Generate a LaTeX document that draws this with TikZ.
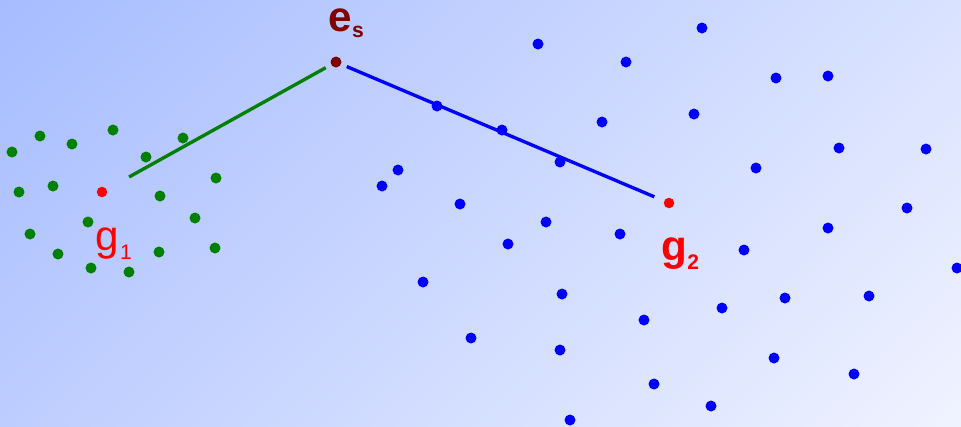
\documentclass[tikz,border=0pt]{standalone}
\usepackage{fontspec}
\setmainfont{Liberation Sans}
\usetikzlibrary{positioning}

\definecolor{dotgreen}{RGB}{0,128,0}
\definecolor{dotblue}{RGB}{0,0,255}
\definecolor{dotred}{RGB}{255,0,0}
\definecolor{esred}{RGB}{128,0,0}
\definecolor{bgdark}{RGB}{166,188,255}
\definecolor{bglight}{RGB}{240,243,255}

\newcommand{\subtxt}[2]{\raisebox{-#1}{\fontsize{6}{7}\selectfont #2}}

\tikzset{
  spot/.style={circle,fill=#1,inner sep=0pt,minimum size=0.11cm},
  lbl/.style={inner sep=0pt,anchor=base west,font=\fontsize{12}{14}\selectfont},
  link/.style={draw=#1,line width=0.95pt}
}

\begin{document}
\begin{tikzpicture}[x=0.01cm,y=-0.01cm]
    \useasboundingbox (0,0) rectangle (961,426);
    % diagonal background, dark top left to light bottom right
    \begin{scope}
      \clip (0,0) rectangle (961,426);
      \begin{scope}[transform canvas={shift={(480.5,213)},rotate=45}]
        \shade[top color=bgdark,bottom color=bglight] (-550,-492) rectangle (550,492);
      \end{scope}
    \end{scope}

    % cluster around g1
    \foreach \x/\y [count=\i] in {12/152,40/136,72/144,113/130,183/138,146/157,
        19/192,53/186,160/196,216/178,88/222,195/218,30/234,58/254,91/268,
        129/272,159/252,215/248}
      \node[spot=dotgreen] (gd\i) at (\x,\y) {};

    % cluster around g2
    \foreach \x/\y [count=\i] in {538/44,702/28,626/62,776/78,828/76,437/106,
        502/130,694/114,602/122,560/162,839/148,926/149,756/168,398/170,
        382/186,460/204,546/222,907/208,828/228,620/234,508/244,744/250,
        957/268,423/282,562/294,722/308,785/298,869/296,644/320,471/338,
        560/350,774/358,854/374,654/384,711/406,570/420}
      \node[spot=dotblue] (bd\i) at (\x,\y) {};

    \node[spot=dotred,minimum size=0.105cm] (g1) at (102,192) {};
    \node[spot=dotred,minimum size=0.105cm] (g2) at (669,203) {};
    \node[spot=esred] (es) at (336,62) {};

    \node[lbl,text=esred] (eslab) at (328,31) {\bfseries e\subtxt{0.06cm}{s}};
    \node[lbl,text=dotred] (g1lab) at (95,250) {g\kern0.01cm\subtxt{0.09cm}{1}};
    \node[lbl,text=dotred] (g2lab) at (661,260) {\bfseries g\subtxt{0.095cm}{2}};

    \draw[link=dotgreen,shorten <=0.25cm,shorten >=0.055cm] (g1) -- (es);
    \draw[link=dotblue,shorten <=0.055cm,shorten >=0.1cm] (es) -- (g2);
\end{tikzpicture}
\end{document}
